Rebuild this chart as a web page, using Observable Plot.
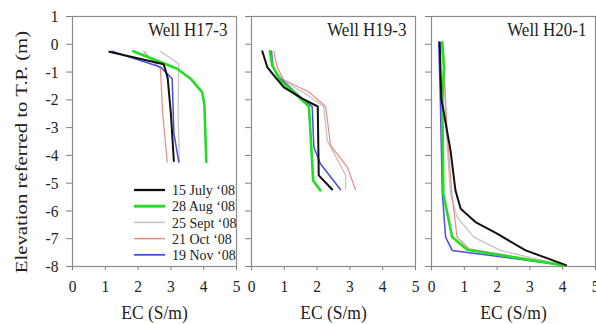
<!DOCTYPE html>
<html><head><meta charset="utf-8">
<script src="https://cdn.jsdelivr.net/npm/d3@7"></script>
<script src="https://cdn.jsdelivr.net/npm/@observablehq/plot@0.6"></script>
<style>
html,body{margin:0;padding:0;background:#fff;}
#wrap{position:relative;width:596px;height:324px;overflow:hidden;font-family:"Liberation Serif","Times New Roman",serif;color:#222;}
#wrap > svg.panel{position:absolute;top:0;margin:0;background:transparent;overflow:visible;}
#wrap svg text{font-family:"Liberation Serif","Times New Roman",serif;}
#ylab{position:absolute;left:22px;top:152px;white-space:nowrap;font-size:17px;transform:translate(-50%,-50%) rotate(-90deg) scale(1.22,1);}
</style></head><body><div id="wrap"><div id="ylab">Elevation referred to T.P. (m)</div></div>
<script>
// ---- data ----
const dates = ["15 July \u201808", "28 Aug \u201808", "25 Sept \u201808", "21 Oct \u201808", "19 Nov \u201808"];
const wells = ["Well H17-3", "Well H19-3", "Well H20-1"];
const ecTicks = [0, 1, 2, 3, 4, 5];
const elevTicks = [1, 0, -1, -2, -3, -4, -5, -6, -7, -8];

// [EC (S/m), elevation (m)] pairs
const h17_jul = [[1.12,-0.27],[2.78,-0.72],[2.9,-1.2],[3.0,-2.5],[3.09,-4.2]];
const h17_aug = [[1.85,-0.25],[2.68,-0.64],[3.19,-0.88],[3.6,-1.24],[3.95,-1.72],[4.02,-2.14],[4.08,-4.24]];
const h17_sep = [[2.68,-0.26],[3.24,-0.7],[3.22,-2.5],[3.26,-4.24]];
const h17_oct = [[2.17,-0.26],[2.68,-0.88],[2.75,-2.5],[2.89,-4.24]];
const h17_nov = [[1.2,-0.25],[2.68,-0.82],[3.04,-1.24],[3.09,-3.2],[3.24,-4.24]];

const h19_jul = [[0.33,-0.25],[0.48,-0.82],[0.68,-1.12],[0.98,-1.54],[1.55,-1.96],[2.02,-2.24],[2.05,-4.72],[2.46,-5.23]];
const h19_aug = [[0.56,-0.25],[0.63,-0.76],[0.88,-1.3],[1.34,-1.78],[1.75,-2.24],[1.8,-3.22],[1.88,-4.9],[2.1,-5.26]];
const h19_sep = [[0.63,-0.25],[0.68,-0.88],[1.04,-1.36],[1.65,-1.78],[2.2,-2.24],[2.31,-3.46],[2.87,-4.72],[2.87,-5.2]];
const h19_oct = [[0.68,-0.25],[0.78,-0.82],[0.98,-1.28],[1.75,-1.72],[2.26,-2.24],[2.41,-3.64],[2.92,-4.42],[3.17,-5.23]];
const h19_nov = [[0.6,-0.25],[0.65,-0.8],[0.78,-1.12],[1.49,-1.9],[1.85,-2.24],[1.9,-3.7],[2.1,-4.3],[2.71,-5.23]];

const h20_jul = [[0.25,0.07],[0.3,-1.96],[0.58,-3.82],[0.73,-5.26],[0.89,-5.92],[1.34,-6.4],[2.0,-6.82],[2.87,-7.42],[4.1,-7.95]];
const h20_aug = [[0.33,0.07],[0.38,-0.82],[0.33,-2.02],[0.36,-5.38],[0.63,-6.94],[1.09,-7.4],[4.0,-7.95]];
const h20_sep = [[0.28,0.07],[0.38,-0.88],[0.45,-3.2],[0.58,-5.38],[0.78,-6.22],[1.29,-6.94],[2.1,-7.42],[4.0,-7.95]];
const h20_oct = [[0.33,0.07],[0.38,-0.88],[0.48,-3.22],[0.63,-5.5],[0.78,-6.94],[1.14,-7.36],[4.0,-7.95]];
const h20_nov = [[0.22,0.07],[0.27,-2.02],[0.33,-5.38],[0.43,-6.94],[0.63,-7.42],[4.0,-7.95]];

const profiles = [
  [h17_jul, h17_aug, h17_sep, h17_oct, h17_nov],
  [h19_jul, h19_aug, h19_sep, h19_oct, h19_nov],
  [h20_jul, h20_aug, h20_sep, h20_oct, h20_nov]
];

// ---- styles ----
const colors = ["#111111", "#22dd22", "#c4c4c4", "#ec8a8a", "#4a4aee"];
const widths = [2, 2.6, 1.3, 1.2, 1.5];
const drawOrder = [2, 3, 4, 1, 0];
const FONT = '"Liberation Serif","Times New Roman",serif';
const TEXT_SCALE = 1.12;

const layout = [
  {left: 0, width: 240, ml: 72, mr: 4},
  {left: 231, width: 188, ml: 20, mr: 4},
  {left: 411, width: 185, ml: 20, mr: 1}
];

const wrap = document.getElementById("wrap");

layout.forEach((L, i) => {
  const marks = [Plot.frame({stroke: "#8c8c8c", strokeWidth: 1.2})];
  drawOrder.forEach(k => {
    const rows = profiles[i][k].map(([ec, elev]) => ({ec, elev, date: dates[k]}));
    marks.push(Plot.line(rows, {x: "ec", y: "elev", stroke: colors[k], strokeWidth: widths[k], curve: "linear"}));
  });
  marks.push(Plot.text([wells[i]], {frameAnchor: "top-right", dx: -9, dy: 6, text: d => d, fontSize: 17, fill: "#222", lineAnchor: "top"}));
  const svg = Plot.plot({
    width: L.width, height: 324,
    marginLeft: L.ml, marginRight: L.mr, marginTop: 16, marginBottom: 58,
    style: {background: "transparent", fontFamily: FONT, fontSize: "15.5px", color: "#222", overflow: "visible"},
    x: {domain: [0, 5], ticks: ecTicks, tickSize: 4, tickPadding: 9, tickFormat: d => String(d),
        label: "EC (S/m)", labelAnchor: "center", labelOffset: 52, labelArrow: "none"},
    y: {domain: [-8, 1], ticks: elevTicks, tickSize: 6, tickPadding: 8,
        tickFormat: i === 0 ? (d => String(d)) : (() => ""), label: null},
    marks
  });
  svg.classList.add("panel");
  svg.style.left = L.left + "px";
  svg.querySelectorAll('g[aria-label="x-axis tick"], g[aria-label="y-axis tick"]').forEach(g => g.setAttribute("stroke", "#808080"));
  svg.querySelectorAll('g[aria-label="x-axis label"] text').forEach(t => t.setAttribute("font-size", 17.5));
  svg.querySelectorAll("text").forEach(t => {
    const tr = t.getAttribute("transform");
    if (tr) t.setAttribute("transform", tr + ` scale(1,${TEXT_SCALE})`);
    else {
      const x = t.getAttribute("x") || 0, y = t.getAttribute("y") || 0;
      t.removeAttribute("x"); t.removeAttribute("y");
      t.setAttribute("transform", `translate(${x},${y}) scale(1,${TEXT_SCALE})`);
    }
  });
  wrap.appendChild(svg);
});

// legend (inside first panel)
const ns = "http://www.w3.org/2000/svg";
const lg = document.createElementNS(ns, "svg");
lg.setAttribute("width", 110); lg.setAttribute("height", 85);
lg.style.position = "absolute";
lg.style.left = "128px";
lg.style.top = "180px";
dates.forEach((d, k) => {
  const cy = 10 + k * 16.2;
  const ln = document.createElementNS(ns, "line");
  ln.setAttribute("x1", 6); ln.setAttribute("x2", 37);
  ln.setAttribute("y1", cy); ln.setAttribute("y2", cy);
  ln.setAttribute("stroke", colors[k]); ln.setAttribute("stroke-width", widths[k] + 0.3);
  lg.appendChild(ln);
  const tx = document.createElementNS(ns, "text");
  tx.setAttribute("x", 44); tx.setAttribute("y", cy);
  tx.setAttribute("dy", "0.35em");
  tx.setAttribute("font-size", 14);
  tx.setAttribute("fill", "#222");
  tx.setAttribute("transform", `translate(0,${cy}) scale(1,1.07) translate(0,${-cy})`);
  tx.textContent = d;
  lg.appendChild(tx);
});
wrap.appendChild(lg);
</script></body></html>
